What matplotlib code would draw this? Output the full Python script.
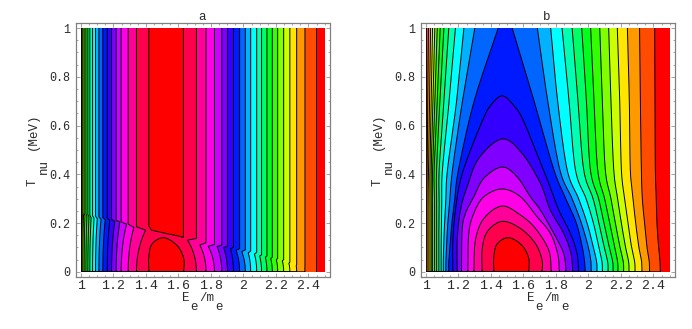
"""Two contour panels of E_e/m_e against T_nu, with hue-coded bands."""

from __future__ import annotations

import colorsys

import matplotlib
matplotlib.use("Agg")
import matplotlib.pyplot as plt
import numpy as np

# ---------------------------------------------------------------------------
# Data: contours, numbered 1 (centre) to 20 (outermost)
# ---------------------------------------------------------------------------

E_TICKS = [1, 1.2, 1.4, 1.6, 1.8, 2, 2.2, 2.4]
T_TICKS = [0, 0.2, 0.4, 0.6, 0.8, 1]
E_TICK_LABELS = ["1", "1.2", "1.4", "1.6", "1.8", "2", "2.2", "2.4"]
T_TICK_LABELS = ["0", "0.2", "0.4", "0.6", "0.8", "1"]

# Innermost contour, closed around the peak (both panels).
C1_E = [1.418, 1.418, 1.439, 1.510, 1.592, 1.633, 1.633]
C1_T = [0.0, 0.062, 0.115, 0.14, 0.108, 0.055, 0.0]

# Panel a, contour 1 upper piece: lower edge of the red column.
A_C1_TOP_E = [1.418, 1.418, 1.435, 1.52, 1.60, 1.631, 1.631]
A_C1_TOP_T = [1.0, 0.188, 0.171, 0.158, 0.147, 0.141, 1.0]

# Panel a, contours 2-20: straight part, then the kink and its tip.
A_LEFT_E = [1.342, 1.291, 1.248, 1.217, 1.189, 1.162, 1.135, 1.111, 1.090, 1.072,
            1.055, 1.043, 1.031, 1.020, 1.012, 1.006, 1.003, 1.001, 1.000]
A_LEFT_KINK_T = [0.185, 0.196, 0.205, 0.212, 0.215, 0.22, 0.222, 0.225, 0.228, 0.23,
                 0.232, 0.235, 0.238, 0.24, 0.242, 0.243, 0.244, 0.245, 0.245]
A_LEFT_TIP_E = [1.398, 1.326, 1.281, 1.240, 1.209, 1.178, 1.150, 1.124, 1.101, 1.081,
                1.063, 1.050, 1.037, 1.025, 1.016, 1.009, 1.005, 1.002, 1.000]
A_LEFT_TIP_T = [0.171, 0.182, 0.196, 0.205, 0.208, 0.212, 0.214, 0.216, 0.218, 0.22,
                0.222, 0.225, 0.228, 0.23, 0.232, 0.233, 0.234, 0.235, 0.235]

A_RIGHT_E = [1.711, 1.770, 1.822, 1.867, 1.902, 1.939, 1.977, 2.012, 2.045, 2.082,
             2.112, 2.145, 2.178, 2.211, 2.248, 2.286, 2.328, 2.379, 2.444]
A_RIGHT_KINK_T = [0.137, 0.119, 0.112, 0.11, 0.105, 0.1, 0.095, 0.09, 0.085, 0.08,
                  0.07, 0.065, 0.06, 0.055, 0.05, 0.04, 0.03, 0.02, 0.01]
A_RIGHT_TIP_E = [1.656, 1.732, 1.783, 1.838, 1.878, 1.92, 1.955, 1.99, 2.03, 2.068,
                 2.10, 2.135, 2.168, 2.203, 2.24, 2.28, 2.325, 2.378, 2.444]
A_RIGHT_TIP_T = [0.13, 0.11, 0.105, 0.104, 0.10, 0.095, 0.088, 0.083, 0.078, 0.073,
                 0.065, 0.06, 0.055, 0.05, 0.045, 0.035, 0.025, 0.015, 0.005]

# Panel b, contours 2-7: closed around the peak, listed left to right.
B_CLOSED_E = [
    [1.346, 1.346, 1.377, 1.469, 1.582, 1.674, 1.715, 1.715],
    [1.295, 1.305, 1.357, 1.469, 1.582, 1.674, 1.756, 1.772],
    [1.258, 1.264, 1.295, 1.357, 1.469, 1.582, 1.684, 1.766, 1.811, 1.822],
    [1.219, 1.223, 1.244, 1.295, 1.357, 1.469, 1.561, 1.643, 1.705, 1.787, 1.848, 1.863],
    [1.193, 1.193, 1.213, 1.254, 1.326, 1.469, 1.592, 1.705, 1.766, 1.848, 1.893, 1.904],
    [1.166, 1.166, 1.182, 1.213, 1.275, 1.350, 1.393, 1.469, 1.547, 1.598, 1.674,
     1.756, 1.818, 1.889, 1.930, 1.940],
]
B_CLOSED_T = [
    [0.0, 0.089, 0.164, 0.207, 0.178, 0.116, 0.048, 0.0],
    [0.0, 0.13, 0.219, 0.27, 0.233, 0.178, 0.089, 0.0],
    [0.0, 0.158, 0.240, 0.308, 0.34, 0.308, 0.226, 0.158, 0.075, 0.0],
    [0.0, 0.171, 0.240, 0.308, 0.384, 0.43, 0.390, 0.308, 0.253, 0.158, 0.075, 0.0],
    [0.0, 0.130, 0.253, 0.349, 0.466, 0.545, 0.486, 0.363, 0.253, 0.158, 0.075, 0.0],
    [0.0, 0.130, 0.253, 0.377, 0.5, 0.623, 0.678, 0.722, 0.678, 0.623, 0.5,
     0.363, 0.253, 0.158, 0.075, 0.0],
]

# Panel b, contours 8-20: open at the top, sampled at shared T rows.
B_OPEN_T = [1.0, 0.7, 0.42, 0.3, 0.2, 0.1, 0.04, 0.0]
B_OPEN_LEFT_E = [
    [1.445, 1.297, 1.201, 1.178, 1.160, 1.148, 1.141, 1.141],
    [1.301, 1.225, 1.164, 1.148, 1.135, 1.127, 1.123, 1.123],
    [1.234, 1.189, 1.133, 1.123, 1.115, 1.109, 1.107, 1.107],
    [1.182, 1.143, 1.102, 1.098, 1.096, 1.094, 1.094, 1.094],
    [1.141, 1.111, 1.082, 1.082, 1.080, 1.080, 1.080, 1.080],
    [1.111, 1.086, 1.066, 1.066, 1.066, 1.066, 1.066, 1.066],
    [1.088, 1.070, 1.051, 1.053, 1.053, 1.053, 1.053, 1.053],
    [1.070, 1.055, 1.041, 1.041, 1.041, 1.041, 1.041, 1.041],
    [1.055, 1.043, 1.033, 1.033, 1.033, 1.033, 1.033, 1.033],
    [1.041, 1.033, 1.025, 1.025, 1.025, 1.025, 1.025, 1.025],
    [1.029, 1.023, 1.016, 1.014, 1.014, 1.014, 1.014, 1.014],
    [1.016, 1.012, 1.008, 1.006, 1.006, 1.006, 1.006, 1.006],
    [1.004, 1.003, 1.002, 1.001, 1.001, 1.001, 1.001, 1.001],
]
B_OPEN_RIGHT_E = [
    [1.531, 1.666, 1.787, 1.861, 1.926, 1.963, 1.977, 1.981],
    [1.686, 1.750, 1.824, 1.900, 1.957, 2.000, 2.016, 2.018],
    [1.768, 1.811, 1.869, 1.940, 1.992, 2.031, 2.051, 2.053],
    [1.838, 1.881, 1.920, 1.986, 2.031, 2.065, 2.084, 2.086],
    [1.900, 1.936, 1.971, 2.029, 2.065, 2.098, 2.119, 2.121],
    [1.959, 1.988, 2.012, 2.063, 2.096, 2.129, 2.150, 2.152],
    [2.014, 2.035, 2.057, 2.100, 2.131, 2.162, 2.180, 2.182],
    [2.070, 2.086, 2.104, 2.139, 2.166, 2.195, 2.215, 2.217],
    [2.125, 2.139, 2.156, 2.180, 2.203, 2.229, 2.248, 2.250],
    [2.178, 2.193, 2.203, 2.223, 2.244, 2.266, 2.285, 2.287],
    [2.240, 2.252, 2.258, 2.275, 2.291, 2.311, 2.328, 2.330],
    [2.315, 2.320, 2.326, 2.332, 2.346, 2.361, 2.375, 2.377],
    [2.408, 2.410, 2.412, 2.418, 2.422, 2.432, 2.441, 2.443],
]

# ---------------------------------------------------------------------------
# Helpers
# ---------------------------------------------------------------------------

FIG_W, FIG_H = 692, 329
TEXT_COLOR = "#2a2a2a"
FRAME_COLOR = "#808080"
LINE_W = 0.7


def _hue(level: int):
    """Band colour inside contour ``level``; level 21 is the outer background."""
    return colorsys.hsv_to_rgb((1.0 - 0.05 * (level - 1)) % 1.0, 1.0, 1.0)


def _smooth(xs, ys, n=10):
    """Catmull-Rom curve through the listed vertices."""
    pts = np.column_stack([xs, ys]).astype(float)
    pts = np.vstack([2 * pts[0] - pts[1], pts, 2 * pts[-1] - pts[-2]])
    out = []
    for i in range(1, len(pts) - 2):
        p0, p1, p2, p3 = pts[i - 1], pts[i], pts[i + 1], pts[i + 2]
        for t in np.linspace(0, 1, n, endpoint=False):
            out.append(0.5 * (2 * p1 + (p2 - p0) * t
                              + (2 * p0 - 5 * p1 + 4 * p2 - p3) * t ** 2
                              + (3 * p1 - p0 - 3 * p2 + p3) * t ** 3))
    out.append(pts[-2])
    return np.array(out)


def _kinked(e_top, kink_t, tip_e, tip_t, n=14):
    """Path from T=1 down to the kink, out to the tip and curving back to T=0."""
    s = np.linspace(0, 1, n)[:, None]
    p0 = np.array([tip_e, tip_t])
    p1 = np.array([e_top, tip_t * 0.55])
    p2 = np.array([e_top, 0.0])
    curve = (1 - s) ** 2 * p0 + 2 * s * (1 - s) * p1 + s ** 2 * p2
    return np.vstack([[e_top, 1.0], [e_top, kink_t], curve])


def _draw_region(ax, path, level, clip):
    """Fill inside ``path`` with the band colour and outline it in black."""
    poly = ax.fill(path[:, 0], path[:, 1], color=_hue(level), lw=0, zorder=2)[0]
    line = ax.plot(path[:, 0], path[:, 1], color="black", lw=LINE_W, zorder=3,
                   solid_joinstyle="round")[0]
    poly.set_clip_path(clip)
    line.set_clip_path(clip)


def _style_axes(ax):
    ax.set_xlim(0.97, 2.53)
    ax.set_ylim(-0.02, 1.02)
    ax.set_xticks(E_TICKS)
    ax.set_xticklabels(E_TICK_LABELS)
    ax.set_yticks(T_TICKS)
    ax.set_yticklabels(T_TICK_LABELS)
    ax.set_xticks(np.arange(1, 2.51, 0.05), minor=True)
    ax.set_yticks(np.arange(0, 1.01, 0.05), minor=True)
    for which, size in (("major", 3), ("minor", 1.5)):
        ax.tick_params(which=which, direction="in", length=size, width=0.5,
                       color=FRAME_COLOR, top=True, right=True)
    ax.tick_params(axis="x", which="major", labelcolor=TEXT_COLOR, labelsize=9.5, pad=2.5)
    ax.tick_params(axis="y", which="major", labelcolor=TEXT_COLOR, labelsize=8.5, pad=4.5)
    for spine in ax.spines.values():
        spine.set_color(FRAME_COLOR)
        spine.set_linewidth(0.9)


def _background(ax):
    return ax.fill([1, 2.5, 2.5, 1], [0, 0, 1, 1], color=_hue(21), lw=0, zorder=1)[0]


def _panel_a(ax):
    clip = _background(ax)
    for i in range(len(A_LEFT_E) - 1, -1, -1):
        left = _kinked(A_LEFT_E[i], A_LEFT_KINK_T[i], A_LEFT_TIP_E[i], A_LEFT_TIP_T[i])
        right = _kinked(A_RIGHT_E[i], A_RIGHT_KINK_T[i], A_RIGHT_TIP_E[i], A_RIGHT_TIP_T[i])
        _draw_region(ax, np.vstack([left, right[::-1]]), i + 2, clip)
    top = np.column_stack([A_C1_TOP_E, A_C1_TOP_T])
    _draw_region(ax, top, 1, clip)
    _draw_region(ax, _smooth(C1_E, C1_T), 1, clip)


def _panel_b(ax):
    clip = _background(ax)
    for i in range(len(B_OPEN_LEFT_E) - 1, -1, -1):
        left = _smooth(B_OPEN_LEFT_E[i], B_OPEN_T)
        right = _smooth(B_OPEN_RIGHT_E[i], B_OPEN_T)
        _draw_region(ax, np.vstack([left, right[::-1]]), i + 8, clip)
    for i in range(len(B_CLOSED_E) - 1, -1, -1):
        _draw_region(ax, _smooth(B_CLOSED_E[i], B_CLOSED_T[i]), i + 2, clip)
    _draw_region(ax, _smooth(C1_E, C1_T), 1, clip)


def _label(fig, px, py, text, rotation=0, size=9):
    fig.text(px / FIG_W, 1 - py / FIG_H, text, ha="center", va="center",
             rotation=rotation, color=TEXT_COLOR, fontsize=size)


def _panel_labels(fig, dx, title):
    _label(fig, 202 + dx, 17, title)
    _label(fig, 186 + dx, 298, "E")
    _label(fig, 194.5 + dx, 307, "e")
    _label(fig, 207 + dx, 298, "/m")
    _label(fig, 219.5 + dx, 307, "e")
    _label(fig, 32.5 + dx, 182, "T", rotation=90)
    _label(fig, 43.5 + dx, 166, "nu", rotation=90)
    _label(fig, 33 + dx, 131, "(MeV)", rotation=90)


# ---------------------------------------------------------------------------
# Figure
# ---------------------------------------------------------------------------

def main() -> None:
    plt.rcParams["font.family"] = ["Liberation Mono", "DejaVu Sans"]

    fig = plt.figure(figsize=(FIG_W / 100, FIG_H / 100), dpi=100)
    size = (253.5 / FIG_W, 253.5 / FIG_H)
    ax_a = fig.add_axes([76 / FIG_W, 1 - 276.7 / FIG_H, *size])
    ax_b = fig.add_axes([421 / FIG_W, 1 - 276.7 / FIG_H, *size])

    _panel_a(ax_a)
    _panel_b(ax_b)
    _style_axes(ax_a)
    _style_axes(ax_b)
    _panel_labels(fig, 0, "a")
    _panel_labels(fig, 345, "b")

    fig.savefig("out.png", dpi=100)
    plt.close(fig)


if __name__ == "__main__":
    main()
